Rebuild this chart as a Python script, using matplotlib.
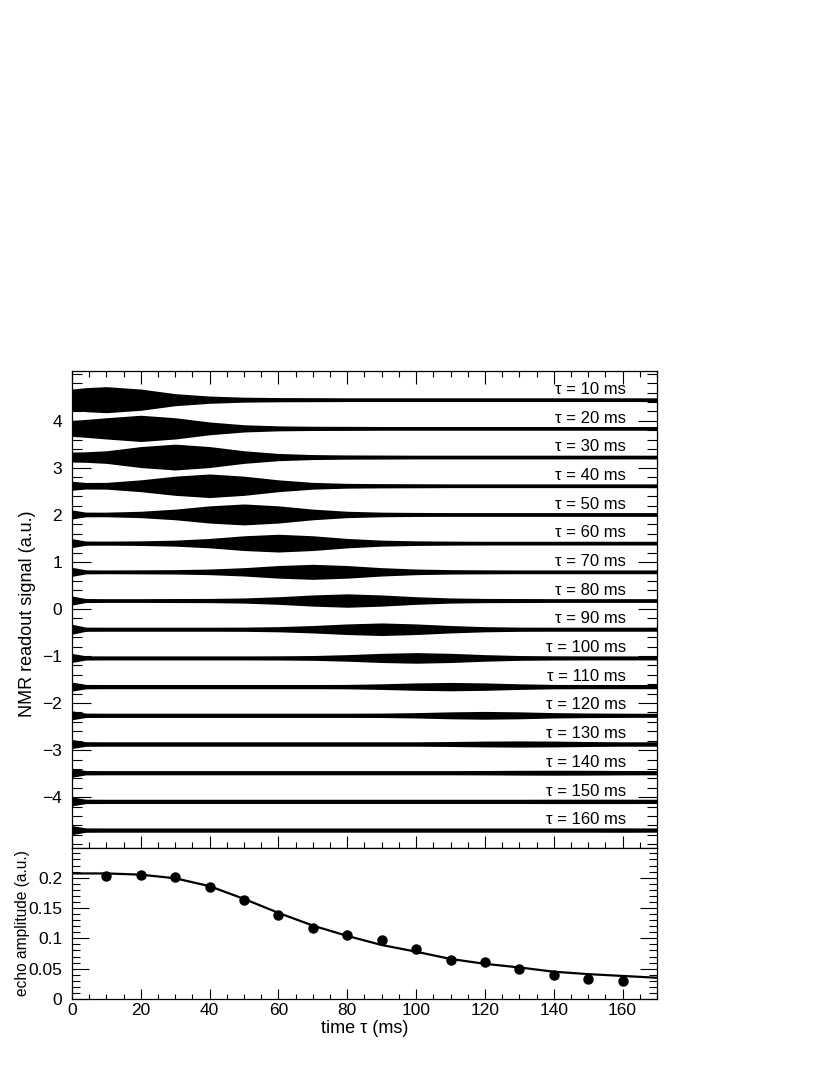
import matplotlib
matplotlib.use('Agg')
import matplotlib.pyplot as plt
from matplotlib.ticker import MultipleLocator

plt.rcParams['font.family'] = ['Liberation Sans', 'DejaVu Sans']

# echo delay of each readout trace (ms) and its vertical offset (a.u.)
taus = [10, 20, 30, 40, 50, 60, 70, 80, 90, 100, 110, 120, 130, 140, 150, 160]
offsets = [4.45, 3.84, 3.23, 2.62, 2.01, 1.40, 0.79, 0.18,
           -0.43, -1.04, -1.65, -2.26, -2.87, -3.48, -4.09, -4.70]

# signal envelope (half amplitude, a.u.) read at t = 0, 4, 10, 20, ..., 170 ms
env_t = [0, 4, 10, 20, 30, 40, 50, 60, 70, 80, 90, 100, 110, 120, 130, 140, 150, 160, 170]
envelopes = [
    [0.226, 0.255, 0.277, 0.226, 0.128, 0.077, 0.053, 0.045, 0.043, 0.040, 0.040, 0.040, 0.040, 0.040, 0.040, 0.040, 0.040, 0.040, 0.040],
    [0.170, 0.190, 0.226, 0.279, 0.226, 0.136, 0.077, 0.053, 0.045, 0.043, 0.040, 0.040, 0.040, 0.040, 0.040, 0.040, 0.040, 0.040, 0.040],
    [0.106, 0.112, 0.134, 0.223, 0.275, 0.223, 0.134, 0.077, 0.053, 0.045, 0.043, 0.040, 0.040, 0.040, 0.040, 0.040, 0.040, 0.040, 0.040],
    [0.096, 0.070, 0.072, 0.126, 0.204, 0.251, 0.204, 0.126, 0.072, 0.051, 0.045, 0.043, 0.040, 0.040, 0.040, 0.040, 0.040, 0.040, 0.040],
    [0.096, 0.050, 0.049, 0.068, 0.113, 0.183, 0.223, 0.183, 0.113, 0.068, 0.049, 0.043, 0.040, 0.040, 0.040, 0.040, 0.040, 0.040, 0.040],
    [0.096, 0.045, 0.043, 0.049, 0.064, 0.100, 0.157, 0.189, 0.157, 0.100, 0.064, 0.049, 0.043, 0.040, 0.040, 0.040, 0.040, 0.040, 0.040],
    [0.096, 0.043, 0.040, 0.043, 0.047, 0.060, 0.089, 0.134, 0.160, 0.134, 0.089, 0.060, 0.047, 0.043, 0.040, 0.040, 0.040, 0.040, 0.040],
    [0.096, 0.043, 0.040, 0.040, 0.043, 0.045, 0.055, 0.081, 0.119, 0.143, 0.119, 0.081, 0.055, 0.045, 0.043, 0.040, 0.040, 0.040, 0.040],
    [0.106, 0.045, 0.043, 0.043, 0.043, 0.043, 0.045, 0.055, 0.079, 0.113, 0.134, 0.113, 0.079, 0.055, 0.045, 0.043, 0.043, 0.043, 0.043],
    [0.096, 0.045, 0.043, 0.043, 0.043, 0.043, 0.043, 0.045, 0.051, 0.070, 0.098, 0.113, 0.098, 0.070, 0.051, 0.045, 0.043, 0.043, 0.043],
    [0.096, 0.047, 0.045, 0.045, 0.045, 0.045, 0.045, 0.045, 0.045, 0.047, 0.060, 0.079, 0.089, 0.079, 0.060, 0.047, 0.045, 0.045, 0.045],
    [0.096, 0.047, 0.045, 0.045, 0.045, 0.045, 0.045, 0.045, 0.045, 0.045, 0.047, 0.057, 0.074, 0.083, 0.074, 0.057, 0.049, 0.045, 0.043],
    [0.096, 0.049, 0.047, 0.047, 0.047, 0.047, 0.047, 0.047, 0.047, 0.047, 0.047, 0.047, 0.053, 0.062, 0.066, 0.062, 0.053, 0.047, 0.047],
    [0.096, 0.047, 0.045, 0.045, 0.045, 0.045, 0.045, 0.045, 0.045, 0.045, 0.045, 0.045, 0.045, 0.047, 0.051, 0.053, 0.051, 0.047, 0.045],
    [0.096, 0.047, 0.045, 0.045, 0.045, 0.045, 0.045, 0.045, 0.045, 0.045, 0.045, 0.045, 0.045, 0.045, 0.045, 0.047, 0.047, 0.047, 0.045],
    [0.096, 0.047, 0.045, 0.045, 0.045, 0.045, 0.045, 0.045, 0.045, 0.045, 0.045, 0.045, 0.045, 0.045, 0.045, 0.045, 0.045, 0.047, 0.045],
]

# echo amplitudes and fitted curve
echo_amp = [0.202, 0.204, 0.201, 0.185, 0.163, 0.139, 0.117, 0.105,
            0.098, 0.083, 0.065, 0.061, 0.049, 0.039, 0.033, 0.030]
fit_t = [0, 10, 20, 30, 40, 50, 60, 70, 80, 90, 100, 110, 120, 130, 140, 150, 160, 170]
fit_y = [0.207, 0.207, 0.205, 0.199, 0.186, 0.165, 0.142, 0.121, 0.104, 0.089,
         0.078, 0.066, 0.058, 0.052, 0.045, 0.041, 0.038, 0.035]

fig = plt.figure(figsize=(8.3, 10.75), dpi=100)
ax1 = fig.add_axes([0.0867, 0.2112, 0.7049, 0.4437])
ax2 = fig.add_axes([0.0867, 0.0707, 0.7049, 0.1405], sharex=ax1)

for tau, off, env in zip(taus, offsets, envelopes):
    lo = [off - e for e in env]
    hi = [off + e for e in env]
    ax1.fill_between(env_t, lo, hi, color='black', lw=0)
    ax1.plot([0, 170], [off, off], color='black', lw=0.8)
    ax1.text(161, off + 0.06, f'τ = {tau} ms', ha='right', va='bottom', fontsize=12)

ax1.set_xlim(0, 170)
ax1.set_ylim(-5.08, 5.06)
ax1.set_ylabel('NMR readout signal (a.u.)', fontsize=13)
ax1.set_yticks([-4, -3, -2, -1, 0, 1, 2, 3, 4])
ax1.yaxis.set_minor_locator(MultipleLocator(0.2))
ax1.xaxis.set_major_locator(MultipleLocator(20))
ax1.xaxis.set_minor_locator(MultipleLocator(5))
ax1.tick_params(axis='y', which='major', direction='in', left=True, right=True, length=14, width=0.8, labelsize=12.5, pad=7)
ax1.tick_params(axis='y', which='minor', direction='in', left=True, right=True, length=7, width=0.8)
ax1.tick_params(axis='x', which='major', direction='in', top=True, bottom=True, length=9, width=0.8, labelbottom=False)
ax1.tick_params(axis='x', which='minor', direction='in', top=True, bottom=True, length=4.5, width=0.8)
ax1.yaxis.set_label_coords(-0.062, 0.49)

ax2.plot(fit_t, fit_y, color='black', lw=1.6)
ax2.plot(taus, echo_amp, 'o', color='black', markersize=6.5)
ax2.set_ylim(0, 0.249)
ax2.set_xlabel('time τ (ms)', fontsize=13)
ax2.set_ylabel('echo amplitude (a.u.)', fontsize=11.2)
ax2.yaxis.set_minor_locator(MultipleLocator(0.01))
ax2.set_yticks([0, 0.05, 0.1, 0.15, 0.2])
ax2.set_yticklabels(['0', '0.05', '0.1', '0.15', '0.2'])
ax2.tick_params(axis='y', which='major', direction='in', left=True, right=True, length=12, width=0.8, labelsize=12.5, pad=7)
ax2.tick_params(axis='y', which='minor', direction='in', left=True, right=True, length=6, width=0.8)
ax2.tick_params(axis='x', which='major', direction='in', top=False, bottom=True, length=7, width=0.8, labelsize=12.5, pad=3)
ax2.tick_params(axis='x', which='minor', direction='in', top=False, bottom=True, length=3.5, width=0.8)
ax2.yaxis.set_label_coords(-0.072, 0.5)
ax2.xaxis.set_label_coords(0.5, -0.14)

for ax in (ax1, ax2):
    for s in ax.spines.values():
        s.set_linewidth(0.9)

fig.savefig('out.png', dpi=100)
